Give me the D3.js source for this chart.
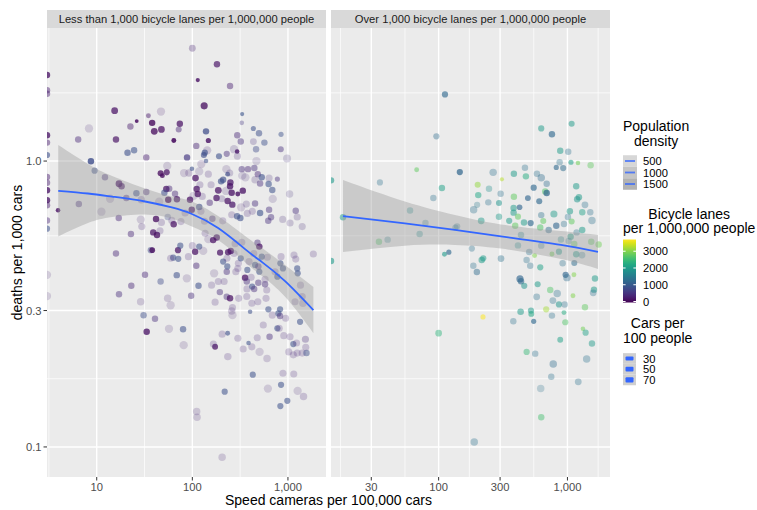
<!DOCTYPE html>
<html>
<head>
<meta charset="utf-8">
<script src="https://cdn.jsdelivr.net/npm/d3@7"></script>
<style>
  body { margin: 0; background: #ffffff; }
  text { font-family: "Liberation Sans", Arial, sans-serif; }
</style>
</head>
<body>
<div id="chart"></div>
<script>
const svgWidth = 757;
const svgHeight = 510;

// facet titles and axis breaks
const facetTitles = [
  "Less than 1,000 bicycle lanes per 1,000,000 people",
  "Over 1,000 bicycle lanes per 1,000,000 people"
];
const xBreaksLow = [10, 100, 1000];
const xBreaksHigh = [30, 100, 300, 1000];
const yBreaks = [0.1, 0.3, 1];

// points: [speed cameras per 100,000 cars, deaths per 1,000 cars, bicycle lanes, population density, cars per 100 people]
// a speed camera value of 0 sits on the left edge of the panel (log of 0)
const lowLanePoints = [
  [0, 2.00, 150, 1600, 45], [0, 1.77, 300, 900, 45], [0, 1.72, 300, 900, 45], [0, 1.23, 150, 1600, 45],
  [0, 1.16, 300, 900, 45], [0, 1.05, 900, 1200, 42], [0, 0.88, 300, 900, 45], [0, 0.84, 300, 900, 45],
  [0, 0.79, 150, 1600, 45], [0, 0.73, 150, 1600, 45], [0, 0.70, 300, 900, 45], [0, 0.62, 400, 800, 45],
  [0, 0.58, 900, 1100, 42], [0, 0.40, 400, 200, 75], [0, 0.337, 400, 200, 75],
  [100, 2.48, 350, 500, 50], [181, 2.18, 200, 1400, 45], [114, 1.92, 150, 1700, 22], [248, 1.83, 300, 850, 45],
  [133, 1.56, 120, 1600, 55], [15.4, 1.50, 150, 1500, 50], [47, 1.49, 300, 200, 75], [26.2, 1.38, 100, 1800, 20],
  [34.7, 1.44, 250, 900, 28], [38, 1.36, 100, 1700, 45], [22.5, 1.32, 250, 850, 45], [74, 1.35, 150, 1500, 45],
  [72, 1.29, 350, 850, 40], [47.5, 1.29, 120, 1500, 48], [40, 1.27, 100, 1600, 50], [8.3, 1.30, 350, 180, 75],
  [332, 1.46, 950, 1200, 22], [329, 1.36, 600, 600, 25], [435, 1.30, 900, 1100, 30], [498, 1.25, 880, 1000, 45],
  [295, 1.23, 400, 850, 45], [847, 1.24, 920, 900, 30], [139, 1.27, 850, 1500, 45], [147, 1.18, 150, 1700, 30],
  [64, 1.18, 100, 1900, 28], [6.4, 1.19, 400, 850, 45], [15.9, 1.19, 150, 1400, 45], [321, 1.17, 500, 850, 45],
  [435, 1.17, 500, 350, 50], [567, 1.16, 900, 900, 45], [110, 1.13, 350, 850, 45], [143, 1.09, 400, 250, 75],
  [135, 1.07, 900, 1300, 42], [132, 1.05, 880, 1300, 40], [229, 1.06, 450, 850, 42], [190, 1.04, 900, 1200, 40],
  [273, 1.10, 450, 250, 75], [294, 1.08, 200, 1700, 25], [296, 1.04, 450, 300, 55], [464, 1.10, 850, 800, 45],
  [841, 1.10, 500, 850, 40], [979, 1.02, 500, 250, 70], [21, 1.07, 900, 1200, 45], [24.6, 1.09, 920, 1100, 45],
  [33, 1.03, 300, 850, 45], [88, 1.03, 600, 1400, 45], [139, 1.00, 900, 1100, 25], [468, 1.00, 450, 200, 75],
  [8.7, 0.998, 850, 1700, 45], [9.5, 0.925, 900, 1000, 42], [12.2, 0.877, 500, 850, 45], [17.1, 0.833, 150, 1500, 50],
  [18.2, 0.816, 200, 1300, 45], [54.6, 0.961, 400, 200, 75], [46.6, 0.906, 100, 1600, 40], [54, 0.913, 150, 1500, 40],
  [48.6, 0.889, 120, 1700, 28], [82, 0.908, 350, 200, 75], [92, 0.908, 350, 300, 60], [99, 0.94, 900, 1200, 25],
  [118, 0.92, 450, 200, 75], [124, 0.976, 400, 220, 75], [147, 0.900, 400, 300, 55], [108, 0.872, 150, 1500, 48],
  [227, 0.937, 400, 200, 75], [234, 0.900, 920, 1300, 28], [246, 0.908, 450, 300, 55], [329, 0.937, 450, 850, 45],
  [382, 0.937, 400, 850, 45], [445, 0.945, 500, 850, 45], [333, 0.889, 450, 200, 75], [359, 0.877, 450, 200, 75],
  [484, 0.900, 400, 850, 45], [532, 0.877, 900, 1200, 45], [453, 0.860, 450, 300, 60], [511, 0.835, 450, 850, 45],
  [635, 0.872, 450, 300, 55], [775, 0.865, 500, 850, 30], [628, 0.831, 920, 1100, 45], [686, 0.792, 900, 1100, 45],
  [1040, 0.767, 500, 250, 60], [693, 0.737, 450, 200, 75], [157, 0.826, 400, 300, 55], [200, 0.849, 900, 1300, 45],
  [210, 0.860, 880, 1300, 45], [250, 0.842, 200, 1500, 45], [248, 0.816, 150, 1600, 45], [187, 0.790, 150, 1500, 50],
  [225, 0.786, 400, 200, 75], [258, 0.775, 150, 1600, 45], [299, 0.767, 150, 1700, 28], [337, 0.788, 150, 1600, 45],
  [111, 0.798, 150, 1500, 45], [114, 0.767, 120, 1500, 45], [120, 0.826, 400, 300, 55], [53.4, 0.798, 150, 1500, 45],
  [57.3, 0.80, 400, 850, 45], [65.9, 0.769, 400, 850, 45], [51, 0.775, 850, 1100, 45], [45, 0.721, 400, 200, 75],
  [56, 0.732, 100, 1700, 45], [69, 0.735, 150, 1500, 45], [94.6, 0.732, 150, 1500, 45], [103, 0.756, 400, 200, 75],
  [127, 0.752, 400, 300, 55], [152, 0.715, 400, 850, 45], [179, 0.742, 150, 1500, 45], [203, 0.738, 400, 300, 55],
  [234, 0.725, 150, 1500, 45], [262, 0.704, 200, 1500, 45], [324, 0.689, 400, 200, 75], [367, 0.707, 450, 300, 55],
  [453, 0.711, 450, 850, 45], [26, 0.771, 880, 1100, 45], [20.4, 0.742, 400, 850, 45], [33, 0.779, 400, 850, 45],
  [13.8, 0.738, 400, 200, 75], [29.3, 0.732, 400, 300, 60], [6.5, 0.707, 450, 850, 45], [11.2, 0.665, 400, 200, 75],
  [3.94, 0.673, 150, 1700, 25], [17, 0.632, 400, 850, 45], [28.9, 0.624, 400, 200, 75], [41.7, 0.627, 120, 1600, 45],
  [47.5, 0.61, 400, 300, 55], [55.3, 0.637, 850, 500, 45], [61, 0.62, 400, 300, 55], [63.8, 0.601, 150, 1500, 45],
  [76, 0.614, 400, 300, 55], [84, 0.658, 400, 300, 55], [98.6, 0.676, 150, 1500, 45], [118, 0.691, 880, 1200, 45],
  [123, 0.667, 400, 300, 55], [134, 0.616, 400, 300, 55], [162, 0.628, 400, 850, 45], [208, 0.618, 400, 300, 55],
  [258, 0.649, 400, 300, 55], [294, 0.641, 900, 1200, 45], [318, 0.632, 900, 1200, 45], [376, 0.656, 400, 300, 55],
  [424, 0.667, 400, 300, 55], [511, 0.658, 920, 1200, 45], [635, 0.676, 500, 850, 45], [665, 0.636, 500, 850, 45],
  [622, 0.618, 500, 850, 45], [881, 0.625, 450, 300, 55], [1052, 0.607, 450, 300, 55], [1206, 0.67, 500, 850, 45],
  [1250, 0.637, 450, 300, 55], [1410, 0.59, 450, 300, 55], [29.6, 0.59, 400, 300, 55],
  [15.9, 0.475, 400, 850, 45], [22.8, 0.556, 400, 850, 45], [39, 0.563, 150, 1500, 45], [42.7, 0.551, 120, 1600, 45],
  [45.9, 0.57, 400, 300, 55], [36.7, 0.488, 850, 900, 42], [38.1, 0.488, 120, 1700, 35], [32, 0.40, 400, 850, 45],
  [23, 0.366, 400, 850, 45], [17.1, 0.342, 450, 850, 45], [28.8, 0.322, 400, 250, 60], [30.9, 0.289, 880, 900, 45],
  [40.7, 0.281, 450, 850, 45], [33.3, 0.253, 150, 1600, 45], [57, 0.259, 400, 200, 75], [46.6, 0.379, 850, 800, 45],
  [55.2, 0.331, 400, 250, 60], [59.3, 0.313, 400, 200, 75], [68.7, 0.399, 880, 1100, 45], [63, 0.459, 880, 1100, 42],
  [71.3, 0.455, 900, 1100, 42], [70.8, 0.488, 150, 1500, 42], [74.8, 0.506, 900, 1100, 42], [59.3, 0.457, 400, 300, 55],
  [91, 0.463, 400, 300, 55], [87.6, 0.389, 400, 200, 75], [97.2, 0.338, 450, 850, 45], [80, 0.258, 880, 1100, 45],
  [81.2, 0.227, 400, 200, 75], [110, 0.430, 400, 850, 45], [116, 0.366, 880, 1100, 45], [100, 0.506, 400, 300, 55],
  [107, 0.482, 150, 1500, 45], [118, 0.502, 900, 1100, 42], [130, 0.485, 400, 200, 75], [136, 0.559, 400, 300, 55],
  [147, 0.533, 400, 200, 75], [165, 0.529, 150, 1500, 45], [180, 0.540, 150, 1500, 45], [159, 0.368, 400, 300, 55],
  [173, 0.321, 400, 300, 55], [169, 0.405, 400, 200, 75], [195, 0.478, 150, 1500, 42], [210, 0.445, 900, 1100, 42],
  [229, 0.410, 450, 850, 45], [187, 0.379, 400, 300, 55], [215, 0.379, 400, 300, 55], [194, 0.348, 450, 850, 45],
  [229, 0.335, 450, 850, 45], [248, 0.331, 150, 1500, 45], [237, 0.48, 150, 1500, 45], [252, 0.485, 150, 1500, 45],
  [230, 0.457, 400, 300, 55], [273, 0.475, 400, 300, 55], [232, 0.428, 900, 1100, 42], [263, 0.307, 400, 300, 55],
  [263, 0.289, 400, 200, 75], [258, 0.299, 400, 250, 60], [305, 0.331, 400, 300, 55], [285, 0.41, 400, 300, 55],
  [299, 0.421, 400, 300, 55], [303, 0.439, 400, 300, 55], [280, 0.514, 400, 300, 55], [329, 0.52, 400, 300, 55],
  [321, 0.457, 900, 1100, 42], [376, 0.416, 900, 1100, 42], [356, 0.391, 150, 1500, 45], [371, 0.379, 450, 850, 45],
  [412, 0.392, 400, 300, 55], [373, 0.357, 400, 300, 55], [422, 0.364, 900, 1100, 42], [443, 0.357, 450, 850, 45],
  [371, 0.336, 400, 300, 55], [419, 0.318, 400, 300, 55], [484, 0.322, 400, 300, 55], [402, 0.297, 900, 1100, 25],
  [392, 0.445, 400, 300, 55], [453, 0.433, 900, 1100, 42], [490, 0.428, 450, 850, 45], [502, 0.41, 900, 1100, 42],
  [480, 0.518, 450, 850, 45], [502, 0.502, 150, 1500, 45], [439, 0.475, 400, 300, 55], [532, 0.463, 900, 1100, 42],
  [609, 0.461, 400, 300, 55], [576, 0.386, 400, 300, 55], [490, 0.375, 450, 850, 45], [576, 0.371, 450, 850, 45],
  [600, 0.354, 400, 300, 55], [590, 0.331, 400, 300, 55], [624, 0.303, 900, 1100, 42], [686, 0.289, 400, 300, 55],
  [552, 0.267, 400, 300, 55], [827, 0.303, 900, 1100, 42], [794, 0.293, 900, 1100, 42], [827, 0.287, 450, 850, 45],
  [945, 0.282, 400, 300, 55], [733, 0.41, 400, 300, 55], [775, 0.394, 900, 1100, 42], [833, 0.439, 900, 1100, 42],
  [887, 0.421, 900, 1100, 42], [847, 0.463, 400, 300, 55], [1206, 0.454, 400, 300, 55], [1250, 0.421, 900, 1100, 42],
  [1265, 0.405, 900, 1100, 42], [1352, 0.368, 400, 300, 55], [1186, 0.322, 400, 300, 55], [1435, 0.318, 400, 250, 60],
  [1157, 0.469, 400, 300, 55], [1843, 0.473, 400, 300, 55], [1339, 0.274, 900, 1100, 42], [1410, 0.336, 400, 300, 55],
  [775, 0.26, 900, 1100, 42], [642, 0.243, 450, 850, 45], [477, 0.241, 400, 300, 55], [505, 0.215, 400, 200, 75],
  [419, 0.224, 400, 300, 55], [387, 0.231, 900, 1100, 25], [340, 0.22, 400, 300, 55], [299, 0.24, 400, 300, 55],
  [234, 0.25, 900, 1200, 28], [205, 0.248, 400, 300, 55], [173, 0.224, 150, 1500, 38], [166, 0.229, 400, 300, 55],
  [235, 0.207, 400, 300, 60], [604, 0.204, 400, 250, 60], [810, 0.26, 400, 300, 55], [904, 0.245, 400, 300, 55],
  [1052, 0.243, 400, 300, 55], [1138, 0.229, 900, 1100, 42], [1230, 0.231, 400, 300, 55], [1523, 0.238, 450, 500, 55],
  [1535, 0.223, 400, 300, 55], [1410, 0.213, 400, 300, 55], [1563, 0.213, 880, 900, 45], [1020, 0.215, 400, 300, 55],
  [1250, 0.213, 400, 300, 55], [1138, 0.21, 400, 300, 55], [887, 0.181, 400, 300, 55], [1150, 0.18, 400, 300, 55],
  [847, 0.165, 900, 1100, 42], [1262, 0.157, 400, 200, 75], [1455, 0.150, 400, 300, 60], [985, 0.145, 900, 1100, 42],
  [833, 0.139, 900, 1100, 42], [617, 0.16, 400, 200, 75], [429, 0.179, 900, 1100, 42], [218, 0.156, 900, 1100, 42],
  [111, 0.133, 400, 250, 60], [112, 0.127, 400, 250, 60], [205, 0.092, 400, 250, 60]
];

const highLanePoints = [
  [0, 0.856, 2000, 1200, 45], [0, 0.447, 2000, 1200, 45],
  [112, 1.71, 1250, 1300, 42], [96, 1.22, 1300, 700, 42], [67.5, 0.932, 2800, 1000, 28], [35, 0.842, 1400, 600, 42],
  [146, 0.915, 1200, 1500, 42], [106, 0.805, 2100, 1000, 45], [91, 0.743, 1400, 600, 45], [60, 0.672, 1800, 600, 45],
  [79, 0.607, 1500, 500, 45], [18.1, 0.636, 2000, 1000, 45], [139, 0.591, 1500, 500, 45], [135, 0.585, 1450, 550, 42],
  [626, 1.30, 2000, 1000, 42], [758, 1.24, 1250, 1300, 45], [1078, 1.35, 2000, 1000, 40], [879, 1.087, 2000, 1000, 45],
  [1014, 1.078, 1400, 600, 45], [870, 0.99, 1400, 600, 45], [819, 0.95, 1250, 1200, 30], [927, 0.945, 1300, 1000, 42],
  [1065, 0.99, 2100, 1100, 30], [1207, 0.984, 2900, 1100, 25], [1514, 0.966, 2800, 800, 45], [468, 0.947, 1400, 600, 45],
  [580, 0.903, 1400, 600, 45], [626, 0.874, 1300, 700, 60], [690, 0.833, 1300, 700, 45], [476, 0.884, 2300, 1000, 45],
  [384, 0.903, 2000, 1000, 45], [265, 0.913, 1400, 600, 60], [310, 0.863, 3300, 1000, 22], [201, 0.826, 3100, 1000, 40],
  [246, 0.80, 1800, 600, 45], [203, 0.76, 2200, 1000, 45], [303, 0.769, 1400, 600, 45], [384, 0.75, 2800, 1000, 45],
  [493, 0.742, 1200, 1300, 38], [547, 0.807, 1250, 1300, 42], [672, 0.783, 2700, 1000, 45], [690, 0.773, 1200, 1500, 45],
  [604, 0.723, 1250, 1300, 40], [1170, 0.816, 2000, 1000, 45], [1228, 0.747, 2000, 1000, 45], [1190, 0.735, 1950, 1000, 45],
  [1368, 0.703, 1400, 600, 50], [1504, 0.662, 1400, 600, 45], [1550, 0.62, 1400, 600, 60], [1303, 0.662, 2100, 900, 45],
  [1045, 0.667, 2000, 1000, 45], [1009, 0.637, 1400, 600, 45], [1078, 0.615, 2800, 1000, 40], [785, 0.653, 2000, 900, 55],
  [626, 0.647, 1400, 700, 45], [649, 0.617, 2800, 1000, 40], [819, 0.594, 1200, 1200, 45], [940, 0.602, 1400, 600, 45],
  [382, 0.685, 2000, 1000, 45], [425, 0.689, 1200, 1300, 35], [382, 0.66, 2000, 1000, 45], [413, 0.639, 2800, 1000, 40],
  [353, 0.618, 2000, 1000, 42], [294, 0.639, 2000, 800, 45], [243, 0.717, 1400, 600, 45], [294, 0.713, 1900, 1000, 40],
  [199, 0.703, 1500, 500, 42], [187, 0.676, 1400, 600, 60], [214, 0.618, 2000, 900, 50], [393, 0.594, 2800, 1000, 45],
  [460, 0.61, 2000, 1000, 45], [518, 0.607, 1250, 1300, 42], [615, 0.586, 2700, 1000, 45],
  [34.4, 0.522, 2700, 800, 45], [40.2, 0.531, 1600, 500, 45], [71.2, 0.556, 1800, 600, 45], [111, 0.472, 2000, 1200, 28],
  [120, 0.48, 1250, 1300, 30], [181, 0.494, 1400, 600, 42], [216, 0.451, 2000, 1000, 45], [222, 0.457, 2000, 1000, 42],
  [186, 0.43, 1400, 600, 45], [198, 0.409, 1300, 900, 45], [305, 0.456, 1400, 700, 48], [436, 0.551, 1700, 600, 45],
  [413, 0.507, 1800, 600, 45], [505, 0.481, 1400, 600, 45], [556, 0.467, 3000, 1000, 28], [482, 0.451, 1400, 600, 45],
  [514, 0.43, 1400, 600, 45], [615, 0.425, 2100, 1000, 42], [626, 0.506, 1500, 500, 45], [715, 0.574, 1300, 900, 45],
  [891, 0.532, 1800, 600, 45], [758, 0.473, 2900, 1000, 28], [859, 0.482, 2000, 900, 42], [1059, 0.544, 2100, 1000, 45],
  [1022, 0.525, 1500, 500, 45], [1178, 0.563, 1400, 600, 45], [1303, 0.574, 2000, 1000, 45], [1130, 0.513, 2800, 800, 45],
  [1170, 0.472, 2000, 900, 45], [1297, 0.469, 1500, 500, 50], [1530, 0.522, 2800, 800, 45], [1747, 0.511, 2900, 900, 45],
  [918, 0.439, 1400, 600, 45], [1130, 0.44, 1300, 1000, 40], [968, 0.40, 1200, 1300, 42], [991, 0.391, 1300, 700, 60],
  [1123, 0.40, 3000, 1000, 28], [1636, 0.388, 2000, 1000, 45], [428, 0.387, 1200, 1300, 55], [436, 0.38, 1250, 1200, 45],
  [462, 0.366, 1900, 1000, 42], [587, 0.371, 2000, 1000, 40], [735, 0.354, 2700, 900, 45], [833, 0.344, 1400, 600, 60],
  [577, 0.335, 1400, 600, 50], [771, 0.325, 1400, 600, 50], [859, 0.315, 1900, 1000, 42], [951, 0.315, 1400, 600, 45],
  [1104, 0.338, 3000, 1000, 28], [1607, 0.355, 2000, 1000, 45], [1585, 0.346, 1400, 600, 50], [1368, 0.308, 2800, 900, 45],
  [433, 0.297, 2000, 1000, 48], [521, 0.30, 2000, 1000, 42], [524, 0.292, 2200, 1100, 38], [684, 0.303, 3200, 900, 42],
  [758, 0.288, 1400, 600, 45], [940, 0.295, 2300, 1000, 28], [380, 0.275, 1400, 600, 45], [547, 0.275, 1250, 1300, 30],
  [962, 0.273, 2700, 900, 42], [221, 0.285, 3700, 1100, 30], [100, 0.25, 2400, 900, 48], [1319, 0.259, 2900, 1000, 25],
  [1384, 0.251, 2100, 900, 42], [879, 0.237, 2100, 1000, 38], [1550, 0.23, 2000, 900, 45], [482, 0.215, 2500, 900, 42],
  [562, 0.212, 1400, 600, 45], [1410, 0.203, 1400, 600, 60], [776, 0.195, 1300, 700, 60], [749, 0.176, 1400, 600, 45],
  [1213, 0.169, 1400, 600, 50], [620, 0.16, 1400, 400, 60], [626, 0.127, 2600, 900, 45], [189, 0.104, 1400, 600, 60]
];

// loess fits: speed values, fit, lower and upper band
const smoothLowX = [3.96, 8.1, 14.5, 32, 61, 99, 186, 356, 536, 933, 1845];
const smoothLowFit = [0.787, 0.770, 0.751, 0.722, 0.688, 0.653, 0.583, 0.492, 0.443, 0.380, 0.301];
const smoothLowLower = [0.545, 0.607, 0.637, 0.650, 0.629, 0.590, 0.529, 0.443, 0.396, 0.335, 0.250];
const smoothLowUpper = [1.137, 0.976, 0.886, 0.801, 0.751, 0.722, 0.642, 0.547, 0.496, 0.433, 0.3625];

const smoothHighX = [18.1, 54.7, 134, 305, 891, 1726];
const smoothHighFit = [0.642, 0.605, 0.574, 0.545, 0.509, 0.481];
const smoothHighLower = [0.481, 0.506, 0.509, 0.494, 0.454, 0.419];
const smoothHighUpper = [0.858, 0.722, 0.647, 0.600, 0.569, 0.551];

// legend breaks
const densityBreaks = [500, 1000, 1500];
const laneBreaks = [0, 1000, 2000, 3000];
const carBreaks = [30, 50, 70];

const panelTop = 28;
const panelBottom = 477;

const facets = [
  { title: facetTitles[0], points: lowLanePoints, breaks: xBreaksLow, extBreaks: [1, 10, 100, 1000, 10000],
    domain: [3.02, 2500], left: 47, right: 326,
    smooth: { x: smoothLowX, fit: smoothLowFit, lo: smoothLowLower, hi: smoothLowUpper } },
  { title: facetTitles[1], points: highLanePoints, breaks: xBreaksHigh, extBreaks: [10, 30, 100, 300, 1000, 3000],
    domain: [14.6, 2140], left: 331, right: 610,
    smooth: { x: smoothHighX, fit: smoothHighFit, lo: smoothHighLower, hi: smoothHighUpper } }
];

const yScale = d3.scaleLog().domain([0.0785, 2.92]).range([panelBottom, panelTop]);
const colourScale = d3.scaleSequential(d3.interpolateViridis).domain([0, 3700]);
const alphaScale = d3.scaleLinear().domain([0, 2200]).range([0.1, 1]);
const sizeScale = d3.scaleLinear().domain([0, 1]).range([1.0, 4.4]);
const radius = c => sizeScale(Math.sqrt(Math.max(0, c - 15) / 70));

const svg = d3.select('#chart')
  .append('svg')
  .attr('width', svgWidth)
  .attr('height', svgHeight);

svg.append('rect').attr('width', svgWidth).attr('height', svgHeight).attr('fill', '#ffffff');

// minor breaks sit half way between major breaks on the log scale
const midBreaks = arr => d3.pairs(arr).map(([a, b]) => Math.sqrt(a * b));
const yMinor = midBreaks([0.03, 0.1, 0.3, 1, 3]).filter(v => v > 0.0785 && v < 2.92);

facets.forEach((f, i) => {
  const xScale = d3.scaleLog().domain(f.domain).range([f.left, f.right]);
  const g = svg.append('g');

  g.append('clipPath').attr('id', 'clip' + i)
    .append('rect')
    .attr('x', f.left).attr('y', panelTop)
    .attr('width', f.right - f.left).attr('height', panelBottom - panelTop);

  // panel background and grid
  g.append('rect')
    .attr('x', f.left).attr('y', panelTop)
    .attr('width', f.right - f.left).attr('height', panelBottom - panelTop)
    .attr('fill', '#ebebeb');

  const xMinor = midBreaks(f.extBreaks).filter(v => v > f.domain[0] && v < f.domain[1]);
  g.selectAll('.xminor').data(xMinor).enter().append('line')
    .attr('x1', d => xScale(d)).attr('x2', d => xScale(d))
    .attr('y1', panelTop).attr('y2', panelBottom)
    .attr('stroke', '#ffffff').attr('stroke-width', 0.7);
  g.selectAll('.yminor').data(yMinor).enter().append('line')
    .attr('x1', f.left).attr('x2', f.right)
    .attr('y1', d => yScale(d)).attr('y2', d => yScale(d))
    .attr('stroke', '#ffffff').attr('stroke-width', 0.7);
  g.selectAll('.xmajor').data(f.breaks).enter().append('line')
    .attr('x1', d => xScale(d)).attr('x2', d => xScale(d))
    .attr('y1', panelTop).attr('y2', panelBottom)
    .attr('stroke', '#ffffff').attr('stroke-width', 1.4);
  g.selectAll('.ymajor').data(yBreaks).enter().append('line')
    .attr('x1', f.left).attr('x2', f.right)
    .attr('y1', d => yScale(d)).attr('y2', d => yScale(d))
    .attr('stroke', '#ffffff').attr('stroke-width', 1.4);

  // points
  const px = d => d[0] > 0 ? xScale(d[0]) : f.left;
  g.append('g').attr('clip-path', `url(#clip${i})`)
    .selectAll('circle')
    .data(f.points)
    .enter()
    .append('circle')
    .attr('cx', px)
    .attr('cy', d => yScale(d[1]))
    .attr('r', d => radius(d[4]))
    .attr('fill', d => colourScale(d[2]))
    .attr('fill-opacity', d => alphaScale(d[3]));

  // smooth band and line
  const sm = f.smooth.x.map((x, k) => ({ x: x, fit: f.smooth.fit[k], lo: f.smooth.lo[k], hi: f.smooth.hi[k] }));
  g.append('path')
    .datum(sm)
    .attr('d', d3.area()
      .x(d => xScale(d.x)).y0(d => yScale(d.lo)).y1(d => yScale(d.hi))
      .curve(d3.curveNatural))
    .attr('fill', '#999999')
    .attr('fill-opacity', 0.4);
  g.append('path')
    .datum(sm)
    .attr('d', d3.line().x(d => xScale(d.x)).y(d => yScale(d.fit)).curve(d3.curveNatural))
    .attr('fill', 'none')
    .attr('stroke', '#3366FF')
    .attr('stroke-width', 1.8);

  // strip
  g.append('rect')
    .attr('x', f.left).attr('y', 10)
    .attr('width', f.right - f.left).attr('height', 18)
    .attr('fill', '#d9d9d9');
  g.append('text')
    .attr('x', (f.left + f.right) / 2).attr('y', 23)
    .attr('text-anchor', 'middle')
    .attr('font-size', '11.2px')
    .attr('fill', '#1a1a1a')
    .text(f.title);

  // x axis
  g.selectAll('.xtick').data(f.breaks).enter().append('line')
    .attr('x1', d => xScale(d)).attr('x2', d => xScale(d))
    .attr('y1', panelBottom).attr('y2', panelBottom + 3.5)
    .attr('stroke', '#333333').attr('stroke-width', 1);
  g.selectAll('.xlab').data(f.breaks).enter().append('text')
    .attr('x', d => xScale(d)).attr('y', panelBottom + 14)
    .attr('text-anchor', 'middle')
    .attr('font-size', '11.2px')
    .attr('fill', '#4d4d4d')
    .text(d => d3.format(',')(d));
});

// y axis on the first panel
svg.selectAll('.ytick').data(yBreaks).enter().append('line')
  .attr('x1', 43.5).attr('x2', 47)
  .attr('y1', d => yScale(d)).attr('y2', d => yScale(d))
  .attr('stroke', '#333333').attr('stroke-width', 1);
svg.selectAll('.ylab').data(yBreaks).enter().append('text')
  .attr('x', 41.5).attr('y', d => yScale(d) + 4)
  .attr('text-anchor', 'end')
  .attr('font-size', '11.2px')
  .attr('fill', '#4d4d4d')
  .text(d => d3.format('.1f')(d));

// axis titles
svg.append('text')
  .attr('x', (47 + 610) / 2).attr('y', 505)
  .attr('text-anchor', 'middle')
  .attr('font-size', '14px')
  .text('Speed cameras per 100,000 cars');
svg.append('text')
  .attr('transform', `translate(22, ${(panelTop + panelBottom) / 2}) rotate(-90)`)
  .attr('text-anchor', 'middle')
  .attr('font-size', '14px')
  .text('deaths per 1,000 cars');

// legends
const legendX = 623;
function legendTitle(lines, y0) {
  const t = svg.append('g');
  const texts = lines.map((s, k) => t.append('text')
    .attr('y', y0 + k * 14.5)
    .attr('text-anchor', 'middle')
    .attr('font-size', '14px')
    .text(s));
  const w = d3.max(texts, n => n.node().getComputedTextLength());
  texts.forEach(n => n.attr('x', legendX + w / 2));
}

// population density (alpha)
legendTitle(['Population', 'density'], 131);
densityBreaks.forEach((d, k) => {
  const yc = 161 + k * 11.5;
  svg.append('rect').attr('x', legendX).attr('y', yc - 5.75).attr('width', 14).attr('height', 11.5).attr('fill', '#f2f2f2');
  svg.append('rect').attr('x', legendX).attr('y', yc - 5.75).attr('width', 14).attr('height', 11.5)
    .attr('fill', '#999999').attr('fill-opacity', alphaScale(d));
  svg.append('line').attr('x1', legendX + 2).attr('x2', legendX + 12).attr('y1', yc).attr('y2', yc)
    .attr('stroke', '#3366FF').attr('stroke-width', 1.8).attr('stroke-opacity', 0.8);
  svg.append('text').attr('x', legendX + 20).attr('y', yc + 4)
    .attr('font-size', '11.2px').text(d);
});

// bicycle lanes (colour bar)
legendTitle(['Bicycle lanes', 'per 1,000,000 people'], 218.5);
const barScale = d3.scaleLinear().domain([0, 3700]).range([301.5, 239.5]);
const grad = svg.append('defs').append('linearGradient')
  .attr('id', 'lanesGrad').attr('x1', 0).attr('x2', 0).attr('y1', 1).attr('y2', 0);
d3.range(0, 1.0001, 0.05).forEach(t => {
  grad.append('stop').attr('offset', t).attr('stop-color', colourScale(t * 3700));
});
svg.append('rect')
  .attr('x', legendX).attr('y', barScale(3700))
  .attr('width', 13).attr('height', barScale(0) - barScale(3700) + 1)
  .attr('fill', 'url(#lanesGrad)');
laneBreaks.forEach(v => {
  const yv = barScale(v);
  svg.append('line').attr('x1', legendX).attr('x2', legendX + 2.6).attr('y1', yv).attr('y2', yv)
    .attr('stroke', '#ffffff').attr('stroke-width', 1);
  svg.append('line').attr('x1', legendX + 10.4).attr('x2', legendX + 13).attr('y1', yv).attr('y2', yv)
    .attr('stroke', '#ffffff').attr('stroke-width', 1);
  svg.append('text').attr('x', legendX + 20).attr('y', yv + 4)
    .attr('font-size', '11.2px').text(v);
});

// cars per 100 people (size)
legendTitle(['Cars per', '100 people'], 328);
const keyThick = d3.scaleLinear().domain([30, 70]).range([4, 5.4]);
carBreaks.forEach((c, k) => {
  const yc = 358.5 + k * 10.7;
  svg.append('rect').attr('x', legendX).attr('y', yc - 5.35).attr('width', 13).attr('height', 10.7).attr('fill', '#cfcfcf');
  svg.append('rect').attr('x', legendX + 2.5).attr('y', yc - keyThick(c) / 2)
    .attr('width', 8).attr('height', keyThick(c)).attr('rx', 1)
    .attr('fill', '#3366FF');
  svg.append('text').attr('x', legendX + 20).attr('y', yc + 4)
    .attr('font-size', '11.2px').text(c);
});
</script>
</body>
</html>
